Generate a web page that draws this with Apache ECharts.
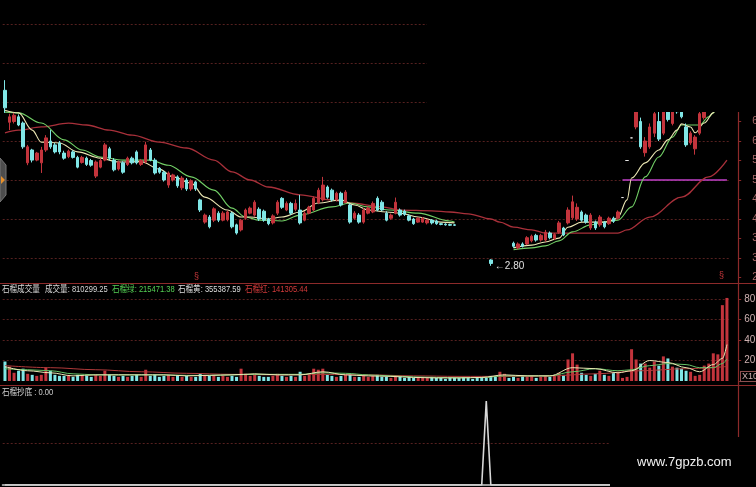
<!DOCTYPE html>
<html><head><meta charset="utf-8">
<script src="https://cdn.jsdelivr.net/npm/echarts@6/dist/echarts.min.js"></script>
<style>html,body{margin:0;padding:0;background:#000;overflow:hidden}#c{width:756px;height:487px}</style>
</head><body><div id="c"></div><script>
// ---- data ----
// [open, close, low, high]; null = no candle drawn
const ohlc = [
[7.30,6.85,6.72,7.56],[6.48,6.62,6.28,6.70],[6.50,6.66,6.45,6.72],[6.62,6.41,6.38,6.68],[6.46,5.85,5.80,6.50],
[5.44,5.85,5.38,5.90],[5.77,5.51,5.45,5.80],[5.51,5.69,5.48,5.72],[5.44,5.77,5.18,5.85],[5.77,6.08,5.72,6.15],
[6.00,5.85,5.80,6.28],[5.90,5.72,5.68,5.95],[5.95,5.72,5.66,6.00],[5.69,5.56,5.52,5.75],[5.60,5.74,5.56,5.78],
[5.72,5.58,5.55,5.76],[5.58,5.33,5.30,5.62],[5.45,5.58,5.42,5.62],[5.56,5.40,5.36,5.60],[5.50,5.38,5.34,5.54],
[5.10,5.46,5.05,5.50],[5.33,5.50,5.30,5.56],[5.51,5.90,5.48,5.95],[5.80,5.56,5.50,5.85],[5.51,5.26,5.22,5.56],
[5.28,5.46,5.24,5.50],[5.44,5.20,5.16,5.48],[5.40,5.56,5.36,5.60],[5.56,5.44,5.40,5.60],[5.72,5.44,5.40,5.76],
[5.40,5.50,5.36,5.54],[5.46,5.90,5.42,5.98],[5.77,5.51,5.48,5.82],[5.51,5.18,5.14,5.56],[5.30,5.20,5.16,5.33],
[5.20,5.00,4.96,5.24],[4.87,5.18,4.80,5.22],[5.00,5.13,4.96,5.16],[5.08,4.85,4.80,5.12],[4.80,5.05,4.74,5.10],
[5.00,4.77,4.72,5.05],[4.77,4.98,4.72,5.02],[4.95,4.77,4.72,4.98],[4.49,4.23,4.18,4.52],[3.92,4.10,3.88,4.14],
[4.05,3.80,3.76,4.10],[3.97,4.26,3.92,4.30],[4.15,3.97,3.92,4.20],[3.97,4.15,3.94,4.20],[3.98,4.18,3.94,4.22],
[4.15,3.80,3.76,4.18],[3.85,3.64,3.60,3.88],[3.72,3.97,3.68,4.00],[4.02,4.23,3.98,4.27],[4.15,4.28,4.12,4.32],
[4.10,4.43,4.06,4.48],[4.25,4.00,3.95,4.30],[4.20,3.97,3.93,4.24],[4.00,3.88,3.84,4.03],[3.90,4.08,3.86,4.12],
[4.15,4.43,4.10,4.48],[4.53,4.30,4.26,4.56],[4.23,4.40,4.20,4.45],[4.40,4.15,4.10,4.44],[4.25,4.40,4.20,4.50],
[4.23,3.90,3.86,4.62],[3.97,4.15,3.94,4.20],[4.15,4.30,4.12,4.34],[4.23,4.53,4.20,4.58],[4.42,4.74,4.38,4.80],
[4.49,4.87,4.45,5.08],[4.82,4.56,4.52,4.86],[4.74,4.49,4.45,4.78],[4.49,4.66,4.45,4.70],[4.66,4.36,4.32,4.70],
[4.43,4.69,4.40,4.74],[4.36,3.92,3.88,4.40],[4.02,4.15,3.98,4.20],[4.10,3.92,3.88,4.15],[3.92,4.23,3.88,4.28],
[4.15,4.28,4.12,4.32],[4.18,4.40,4.15,4.45],[4.53,4.23,4.20,4.58],[4.43,4.23,4.20,4.48],[4.15,3.97,3.94,4.20],
[4.02,4.10,3.98,4.14],[4.15,4.43,4.12,4.55],[4.23,4.10,4.06,4.27],[4.20,4.12,4.08,4.24],[4.08,3.97,3.94,4.12],
[4.00,3.88,3.85,4.03],[3.92,4.02,3.90,4.05],[3.92,4.02,3.90,4.05],[3.90,3.97,3.86,4.00],[3.97,3.90,3.86,4.00],
[3.95,3.88,3.85,3.98],[3.88,3.86,3.84,3.90],[3.87,3.85,3.83,3.89],[3.86,3.84,3.82,3.88],[3.85,3.84,3.82,3.87],
null,null,null,null,null,null,null,
[2.95,2.86,2.80,2.97],
null,null,null,null,
[3.38,3.30,3.26,3.42],[3.26,3.36,3.22,3.40],[3.36,3.30,3.27,3.40],[3.36,3.52,3.33,3.56],[3.44,3.56,3.40,3.60],
[3.58,3.46,3.42,3.62],[3.46,3.58,3.42,3.62],[3.46,3.66,3.42,3.72],[3.64,3.52,3.48,3.68],[3.50,3.60,3.46,3.64],
[3.66,3.90,3.62,3.95],[3.77,3.59,3.56,3.80],[3.90,4.23,3.86,4.30],[4.03,4.44,3.98,4.60],[4.00,4.30,3.95,4.40],
[4.18,3.97,3.93,4.22],[4.10,3.92,3.88,4.14],[3.77,4.10,3.72,4.15],[3.92,3.77,3.72,3.96],[3.85,4.05,3.80,4.10],
[3.92,3.80,3.76,3.95],[3.88,4.02,3.85,4.06],[4.02,3.94,3.90,4.06],[4.02,4.18,3.98,4.22],
[4.55,4.55,4.55,4.55],[5.50,5.50,5.50,5.50],[6.08,6.08,6.08,6.08],
[6.36,6.80,6.30,7.00],[6.50,5.85,5.80,6.60],[5.70,6.00,5.60,6.10],[5.85,6.36,5.80,6.45],[6.20,6.70,6.10,7.00],
[6.50,6.05,6.00,6.80],[6.20,6.75,6.15,7.00],[6.90,6.55,6.50,7.00],[6.45,6.85,6.40,7.00],[7.00,6.75,6.70,7.10],
[6.90,6.62,6.58,7.00],[6.36,5.90,5.85,6.45],[5.95,6.20,5.90,6.25],[5.80,6.10,5.65,6.15],[6.20,6.70,6.15,6.90],
[6.60,6.95,6.55,7.10],[6.90,7.30,6.85,7.40],[7.30,7.80,7.20,7.90],[7.80,8.20,7.70,8.40],[8.20,8.90,8.10,9.00],
[8.90,9.40,8.80,9.50]
];
// volume in units of 10,000 (axis shows x10)
const volume = [
19,14,8,10,12,7,6,5,6,13, 10,6,5,5,6,4,6,5,5,4, 6,5,10,6,5,4,5,4,5,6, 4,11,5,6,4,5,6,4,5,4,
5,4,4,7,6,5,6,4,5,4, 5,4,12,7,5,6,5,4,4,5, 7,5,4,5,4,9,5,6,12,11, 12,6,5,4,5,6,7,4,4,5,
4,5,6,4,4,3,5,4,3,4, 3,4,3,3,4,3,3,2,3,3,
3,4,3,2,3,4,3,5,4,9,7,3,
4,3,5,4,5,3,4,5,4,6,8,6,
21,27,16,8,6,5,7,10,6,5,8,9,
3,4,31,
21,17,17,13,19,15,24,22,14,13,12,10,9,5,6,15,17,27,26,74,81.03
];
const gapUpVolume = [109,110];           // red volume bars where no candle is drawn
// moving-average lines, [barIndex, value]
const ma5Left = [[0,6.79],[3,6.72],[6,6.28],[8,5.97],[12,5.95],[16,5.72],[21,5.56],[25,5.46],[30,5.47],[34,5.28],[37,5.08],[41,4.92],[44,4.56],[49,4.23],[52,4.05],[54,4.05],[58,4.0],[61,4.05],[65,4.18],[69,4.41],[74,4.49],[77,4.36],[80,4.23],[84,4.18],[87,4.15],[91,4.05],[96,3.92],[99,3.90]];
const ma5Right = [[112,3.26],[116,3.33],[119,3.41],[122,3.51],[124,3.79],[127,3.92],[129,3.92],[132,3.92],[134,3.97],[135,4.05],[137,4.49],[138,5.05],[141,5.44],[144,5.77],[146,6.03],[148,6.28],[149,6.44],[151,6.36],[152,6.21],[154,6.46],[156,6.72],[157,7.0],[158,7.4],[159,7.9]];
const ma10Left = [[0,6.74],[3,6.72],[8,6.46],[13,6.03],[17,5.77],[21,5.59],[26,5.51],[32,5.51],[36,5.38],[41,5.08],[46,4.74],[50,4.28],[53,4.05],[56,3.97],[61,3.95],[65,4.10],[72,4.31],[76,4.41],[80,4.31],[85,4.23],[91,4.15],[98,3.95],[99,3.92]];
const ma10Right = [[112,3.21],[116,3.26],[119,3.31],[122,3.44],[125,3.67],[129,3.85],[132,3.92],[135,3.97],[138,4.31],[141,5.08],[144,5.59],[147,6.10],[149,6.41],[153,6.41],[155,6.62],[156,6.72],[157,6.9],[158,7.2],[159,7.5]];
const maLong = [[0,6.21],[3,6.28],[8,6.36],[14,6.46],[18,6.41],[23,6.28],[28,6.15],[34,5.97],[40,5.82],[46,5.51],[50,5.21],[54,5.0],[58,4.82],[65,4.62],[72,4.49],[76,4.41],[83,4.31],[87,4.23],[94,4.21],[98,4.18],[102,4.13],[107,4.0],[109,3.92],[112,3.79],[116,3.72],[119,3.64],[127,3.64],[135,3.64],[137,3.72],[142,4.05],[149,4.56],[155,5.08],[159,5.51]];
const volYellow = [[0,14],[5,10],[10,8],[15,5],[20,6],[25,6],[30,6],[35,6],[40,5],[45,5.5],[50,6],[55,7],[60,6],[65,6],[70,9],[75,6],[80,5],[85,4.5],[90,3.5],[95,3],[100,3],[105,3.5],[110,6],[115,5],[120,5],[125,13],[130,12],[135,8],[138,10],[142,20],[146,18],[150,13],[153,9],[156,16],[158,22],[159,35.54]];
const volGreen = [[0,12],[5,11],[10,10],[15,7],[20,6],[25,6],[30,6],[35,6],[40,5.5],[45,5.5],[50,6],[55,6.5],[60,6.5],[65,6.5],[70,8],[75,7.5],[80,6],[85,5],[90,4],[95,3.5],[100,3.2],[105,3.3],[110,5],[115,5],[120,5],[125,9],[130,12],[135,10],[138,11],[142,15],[146,17],[150,16],[153,13],[156,13],[158,17],[159,21.55]];
const volRed = [[0,15],[10,13],[20,11],[30,9],[40,7.5],[50,6.5],[60,6],[70,6.5],[80,6],[90,5],[100,4.5],[110,4.5],[120,5],[130,7],[140,10],[150,12],[159,14.13]];
const signal = [[0,0],[105,0],[106,1],[107,0],[159,0]];
const priceGridLines = [3,4,5,6,7,8,9];
const lowMark = {index:107, value:2.80, text:'←2.80'};
const purpleLine = {from:136, to:159, value:5.0};
const volTitles = ['石榴成交量','成交量: 810299.25','石榴绿: 215471.38','石榴黄: 355387.59','石榴红: 141305.44'];
const signalTitle = '石榴抄底 : 0.00';

// ---- styles ----
const RED='#c3343c', CYAN='#80e6e6', GRIDC='#55201f', AXISC='#8c2a2a';
const FONT='"Liberation Sans","Noto Sans CJK SC",sans-serif';
const days = ohlc.map((_,i)=>String(i));
const candleData = ohlc.map(d => d ? d : ['-','-','-','-']);
const isUp = i => ohlc[i] ? ohlc[i][1] >= ohlc[i][0] : gapUpVolume.includes(i);
const volData = volume.map((v,i)=>({value:v, itemStyle:{color: isUp(i)?RED:CYAN}}));

const L=2.7, W=726.5;
const chart = echarts.init(document.getElementById('c'), null, {renderer:'canvas'});
const lineS = (data, color, xi, yi, w) => ({type:'line', data, xAxisIndex:xi, yAxisIndex:yi, showSymbol:false, symbol:'none',
  smooth:0.35, smoothMonotone:'x', lineStyle:{color, width:w||1.1}, silent:true, z:3, animation:false});
const gridBase = {left:L, width:W, containLabel:false, outerBoundsMode:'none'};
const title = (x, y, text, fill) => ({type:'text', x, y, scaleX:0.84, style:{text, fill, font:'9px '+FONT}, z:102, silent:true});

chart.setOption({
  backgroundColor:'#000',
  animation:false,
  textStyle:{fontFamily:FONT},
  grid:[
    Object.assign({top:4.5, height:273}, gridBase),
    Object.assign({top:299, height:82}, gridBase),
    Object.assign({top:401, height:84}, gridBase)
  ],
  xAxis:[
    {type:'category', data:days, gridIndex:0, show:false},
    {type:'category', data:days, gridIndex:1, show:false},
    {type:'category', data:days, gridIndex:2, axisLine:{show:true, onZero:false, lineStyle:{color:'#9c9c9c', width:2}}, axisTick:{show:false}, axisLabel:{show:false}, splitLine:{show:false}}
  ],
  yAxis:[
    {type:'value', gridIndex:0, position:'right', offset:9, min:2.5, max:9.5, interval:0.5,
      axisLine:{show:false}, axisTick:{show:true, length:3, lineStyle:{color:AXISC}},
      axisLabel:{color:'#a86868', fontSize:10, margin:14, formatter:v=>v.toFixed(2)}, splitLine:{show:false}},
    {type:'value', gridIndex:1, position:'right', offset:9, min:0, max:80, interval:20,
      axisLine:{show:false}, axisTick:{show:true, length:3, lineStyle:{color:AXISC}},
      axisLabel:{color:'#cfb2b2', fontSize:10, margin:6, formatter:v=>v===0?'':String(v)},
      splitLine:{show:true, showMinLine:false, lineStyle:{color:GRIDC, type:[2,2]}}},
    {type:'value', gridIndex:2, min:0, max:1, interval:0.5, axisLine:{show:false}, axisTick:{show:false}, axisLabel:{show:false},
      splitLine:{show:true, showMinLine:false, showMaxLine:false, lineStyle:{color:GRIDC, type:[2,2]}}}
  ],
  series:[
    {type:'candlestick', data:candleData, xAxisIndex:0, yAxisIndex:0, barWidth:3, z:4,
      itemStyle:{color:RED, color0:CYAN, borderColor:RED, borderColor0:CYAN, borderColorDoji:'#e6e6e6', borderWidth:1},
      markLine:{silent:true, symbol:['none','none'], label:{show:false}, animation:false, z:1,
        data: priceGridLines.map(v=>({yAxis:v, lineStyle:{color:GRIDC, type:[2,2], width:1}})).concat([
          [{coord:[purpleLine.from, purpleLine.value], lineStyle:{color:'#c040c8', width:1.5, type:'solid'}}, {coord:[purpleLine.to, purpleLine.value]}]
        ])},
      markPoint:{silent:true, symbol:'circle', symbolSize:0, animation:false,
        data:[{coord:[lowMark.index, lowMark.value], label:{show:true, position:'right', distance:4, formatter:lowMark.text, color:'#e0e0e0', fontSize:10, fontFamily:FONT}}]}
    },
    lineS(maLong, '#a8303a', 0, 0, 1.3),
    lineS(ma10Left, '#72cf66', 0, 0),
    lineS(ma10Right, '#72cf66', 0, 0),
    lineS(ma5Left, '#ece7b4', 0, 0),
    lineS(ma5Right, '#ece7b4', 0, 0),
    {type:'bar', data:volData, xAxisIndex:1, yAxisIndex:1, barWidth:3, clip:false, z:2, silent:true},
    lineS(volRed, '#b03a3a', 1, 1, 1),
    lineS(volGreen, '#66c266', 1, 1, 1),
    lineS(volYellow, '#ece7b4', 1, 1, 1),
    {type:'line', data:signal, xAxisIndex:2, yAxisIndex:2, showSymbol:false, symbol:'none', lineStyle:{color:'#d8d8d8', width:1.6}, z:3, silent:true}
  ],
  graphic:[
    {type:'rect', shape:{x:427, y:0, width:329, height:112}, style:{fill:'#000'}, z:100, silent:true},
    {type:'rect', shape:{x:610, y:438, width:146, height:49}, style:{fill:'#000'}, z:100, silent:true},
    {type:'line', shape:{x1:738.5, y1:112, x2:738.5, y2:437}, style:{stroke:AXISC, lineWidth:1.2}, z:101, silent:true},
    {type:'line', shape:{x1:0, y1:283.5, x2:756, y2:283.5}, style:{stroke:AXISC, lineWidth:1.2}, z:101, silent:true},
    {type:'line', shape:{x1:0, y1:385.5, x2:756, y2:385.5}, style:{stroke:AXISC, lineWidth:1.2}, z:101, silent:true},
    {type:'polygon', shape:{points:[[0,158],[6,165],[6,195],[0,202]]}, style:{fill:'#4d4d4d', stroke:'#777', lineWidth:1}, z:101, silent:true},
    {type:'polygon', shape:{points:[[1,176],[5,180],[1,184]]}, style:{fill:'#e8902a'}, z:102, silent:true},
    {type:'text', x:194, y:272, style:{text:'§', fill:'#c8383c', font:'9px '+FONT}, z:102, silent:true},
    {type:'text', x:719, y:271, style:{text:'§', fill:'#c8383c', font:'9px '+FONT}, z:102, silent:true},
    title(2, 285, volTitles[0], '#d8d8d8'),
    title(45, 285, volTitles[1], '#d8d8d8'),
    title(112, 285, volTitles[2], '#54d054'),
    title(178, 285, volTitles[3], '#dedede'),
    title(245, 285, volTitles[4], '#d23a3a'),
    title(2, 388, signalTitle, '#d0d0d0'),
    {type:'text', x:741, y:372, style:{text:'X10', fill:'#cfb2b2', font:'9px '+FONT, backgroundColor:'#000', borderColor:'#8c5050', borderWidth:1, padding:[0,1]}, z:102, silent:true},
    {type:'text', x:637, y:456, style:{text:'www.7gpzb.com', fill:'#f2f2f2', font:'13px '+FONT}, z:102, silent:true}
  ]
});
</script></body></html>
